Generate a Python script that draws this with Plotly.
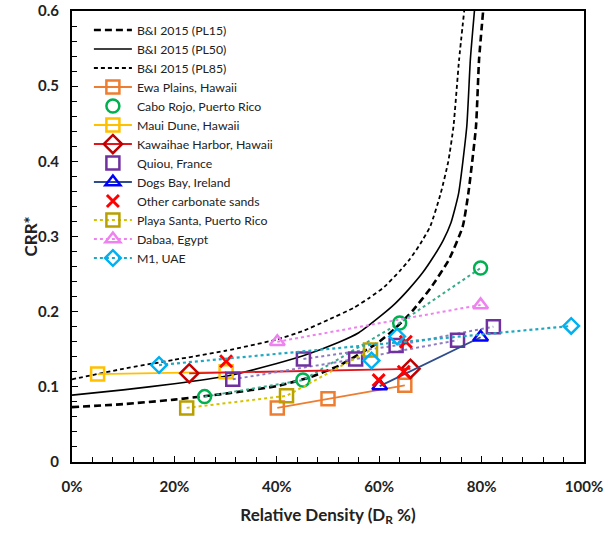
import plotly.graph_objects as go

# ---------------- data ----------------
# Boulanger & Idriss 2015 curves
pl15_dr = [0, 10, 20, 30, 40, 46.6, 52.4, 56, 60, 63, 66.5, 70.1, 73.6, 76.3, 77.4, 78.9, 79.5, 80.3]
pl15_crr = [0.073, 0.077, 0.083, 0.091, 0.101, 0.113, 0.129, 0.143, 0.160, 0.177, 0.201, 0.232, 0.269, 0.313, 0.357, 0.446, 0.535, 0.600]

pl50_dr = [0, 10, 20, 30, 40, 45, 52, 56, 60.6, 63, 65.8, 68.5, 70.5, 72.5, 74, 75.5, 77.1, 77.8, 78.6]
pl50_crr = [0.089, 0.096, 0.104, 0.114, 0.131, 0.141, 0.159, 0.172, 0.196, 0.210, 0.230, 0.252, 0.272, 0.295, 0.318, 0.357, 0.446, 0.535, 0.600]

pl85_dr = [0, 10, 20, 30, 40, 45, 50, 55, 58, 61, 64, 66, 68, 70, 72, 73.5, 74.5, 75.6, 76.6]
pl85_crr = [0.110, 0.124, 0.136, 0.148, 0.163, 0.174, 0.189, 0.205, 0.218, 0.233, 0.254, 0.270, 0.290, 0.314, 0.357, 0.400, 0.446, 0.535, 0.600]

ewa_dr = [40.1, 50.0, 65.0]
ewa_crr = [0.072, 0.084, 0.102]

cabo_dr = [25.9, 45.1, 64.0, 79.8]
cabo_crr = [0.087, 0.109, 0.185, 0.258]

maui_dr = [5.0, 30.1]
maui_crr = [0.117, 0.120]

kawa_dr = [22.9, 66.1]
kawa_crr = [0.118, 0.124]

quiou_a_dr = [31.4, 55.4, 75.3]
quiou_a_crr = [0.110, 0.137, 0.162]
quiou_b_dr = [45.2, 63.3, 82.3]
quiou_b_crr = [0.137, 0.155, 0.180]

dogs_dr = [60.1, 79.8]
dogs_crr = [0.101, 0.166]

other_dr = [30.1, 59.9, 64.8, 65.2]
other_crr = [0.134, 0.109, 0.120, 0.160]

playa_dr = [22.4, 41.9, 58.3]
playa_crr = [0.072, 0.088, 0.149]

dabaa_dr = [40.1, 79.8]
dabaa_crr = [0.160, 0.209]

m1_dr = [17.0, 97.5]
m1_crr = [0.129, 0.181]
m1_extra_dr = [58.5, 63.5]
m1_extra_crr = [0.135, 0.167]

x_ticks = [0, 20, 40, 60, 80, 100]
y_ticks = [0, 0.1, 0.2, 0.3, 0.4, 0.5, 0.6]

FONT = "Lato"

fig = go.Figure()

# B&I curves
fig.add_trace(go.Scatter(x=pl15_dr, y=pl15_crr, mode="lines", name="B&I 2015 (PL15)",
                         line=dict(color="black", width=2.6, dash="7px,4px", shape="spline", smoothing=0.5)))
fig.add_trace(go.Scatter(x=pl50_dr, y=pl50_crr, mode="lines", name="B&I 2015 (PL50)",
                         line=dict(color="black", width=1.6, shape="spline", smoothing=0.5)))
fig.add_trace(go.Scatter(x=pl85_dr, y=pl85_crr, mode="lines", name="B&I 2015 (PL85)",
                         line=dict(color="black", width=1.8, dash="4px,3px", shape="spline", smoothing=0.5)))

MS = 13
MW = 2.5

def sq(color):
    return dict(symbol="square-open", size=MS, color=color, line=dict(width=MW, color=color))

fig.add_trace(go.Scatter(x=ewa_dr, y=ewa_crr, mode="lines+markers", name="Ewa Plains, Hawaii",
                         line=dict(color="#ED7D31", width=1.8), marker=sq("#ED7D31")))

# Cabo Rojo (dotted connector + markers)
fig.add_trace(go.Scatter(x=cabo_dr, y=cabo_crr, mode="lines", showlegend=False, hoverinfo="skip",
                         line=dict(color="#3AA98A", width=2, dash="dot")))
fig.add_trace(go.Scatter(x=cabo_dr, y=cabo_crr, mode="markers", name="Cabo Rojo, Puerto Rico",
                         marker=dict(symbol="circle-open", size=MS, color="#00B050", line=dict(width=MW, color="#00B050"))))

fig.add_trace(go.Scatter(x=maui_dr, y=maui_crr, mode="lines+markers", name="Maui Dune, Hawaii",
                         line=dict(color="#FFC000", width=1.8), marker=sq("#FFC000")))

fig.add_trace(go.Scatter(x=kawa_dr, y=kawa_crr, mode="lines+markers", name="Kawaihae Harbor, Hawaii",
                         line=dict(color="#E0161C", width=1.8),
                         marker=dict(symbol="diamond-open", size=14, color="#C00000", line=dict(width=MW, color="#C00000"))))

# Quiou (dotted connectors + markers)
fig.add_trace(go.Scatter(x=quiou_a_dr, y=quiou_a_crr, mode="lines", showlegend=False, hoverinfo="skip",
                         line=dict(color="#8E7CC3", width=2, dash="dot")))
fig.add_trace(go.Scatter(x=quiou_b_dr, y=quiou_b_crr, mode="lines", showlegend=False, hoverinfo="skip",
                         line=dict(color="#8E7CC3", width=2, dash="dot")))
fig.add_trace(go.Scatter(x=quiou_a_dr + quiou_b_dr, y=quiou_a_crr + quiou_b_crr, mode="markers", name="Quiou, France",
                         marker=sq("#7030A0")))

fig.add_trace(go.Scatter(x=dogs_dr, y=dogs_crr, mode="lines+markers", name="Dogs Bay, Ireland",
                         line=dict(color="#2F4C8C", width=1.8),
                         marker=dict(symbol="triangle-up-open", size=13, color="#0000FF", line=dict(width=MW, color="#0000FF"))))

fig.add_trace(go.Scatter(x=other_dr, y=other_crr, mode="markers", name="Other carbonate sands",
                         marker=dict(symbol="x-thin", size=12, color="#FF0000", line=dict(width=3, color="#FF0000"))))

fig.add_trace(go.Scatter(x=playa_dr, y=playa_crr, mode="lines+markers", name="Playa Santa, Puerto Rico",
                         line=dict(color="#D4C200", width=2, dash="dot"), marker=sq("#B8A000")))

fig.add_trace(go.Scatter(x=dabaa_dr, y=dabaa_crr, mode="lines+markers", name="Dabaa, Egypt",
                         line=dict(color="#EE82EE", width=2, dash="dot"),
                         marker=dict(symbol="triangle-up-open", size=13, color="#EE82EE", line=dict(width=MW, color="#EE82EE"))))

fig.add_trace(go.Scatter(x=m1_dr, y=m1_crr, mode="lines+markers", name="M1, UAE",
                         line=dict(color="#1FA8C0", width=2.2, dash="dot"),
                         marker=dict(symbol="diamond-open", size=12, color="#00B0F0", line=dict(width=MW, color="#00B0F0"))))
fig.add_trace(go.Scatter(x=m1_extra_dr, y=m1_extra_crr, mode="markers", showlegend=False,
                         marker=dict(symbol="diamond-open", size=12, color="#00B0F0", line=dict(width=MW, color="#00B0F0"))))

fig.update_layout(
    width=606, height=536,
    margin=dict(l=72, r=22, t=11, b=74),
    paper_bgcolor="white", plot_bgcolor="white",
    font=dict(family=FONT, color="black"),
    legend=dict(x=0.033, y=0.99, xanchor="left", yanchor="top",
                bgcolor="rgba(255,255,255,0)", font=dict(family=FONT, size=12.3, color="#222"),
                tracegroupgap=0, itemwidth=38),
    showlegend=True,
    annotations=[dict(text="CRR*", xref="paper", yref="paper", x=-0.082, y=0.5,
                      xanchor="center", yanchor="middle", textangle=-90, showarrow=False,
                      font=dict(family=FONT, size=17, weight="bold", color="#222"))],
)

fig.update_xaxes(
    range=[0, 100], tickvals=x_ticks, ticktext=[f"{v}%" for v in x_ticks],
    automargin=False,
    showgrid=False, zeroline=False,
    showline=True, linecolor="black", linewidth=2, mirror=True,
    ticks="inside", ticklen=6, tickwidth=1.2, tickcolor="black",
    minor=dict(dtick=4, ticks="inside", ticklen=5, tickwidth=1, tickcolor="black"),
    ticklabelstandoff=10,
    tickfont=dict(family=FONT, size=15, color="#222", weight="bold"),
    title=dict(text="Relative Density (D<sub>R</sub> %)", font=dict(family=FONT, size=17, weight="bold", color="#222")),
)
fig.update_yaxes(
    range=[0, 0.6], tickvals=y_ticks, ticktext=[f"{v:g}" for v in y_ticks],
    automargin=False,
    showgrid=False, zeroline=False,
    showline=True, linecolor="black", linewidth=2, mirror=True,
    ticks="inside", ticklen=6, tickwidth=1.2, tickcolor="black",
    minor=dict(dtick=0.02, ticks="inside", ticklen=5, tickwidth=1, tickcolor="black"),
    ticklabelstandoff=8,
    tickfont=dict(family=FONT, size=15, color="#222", weight="bold"),
)

fig.write_html("out.html")
